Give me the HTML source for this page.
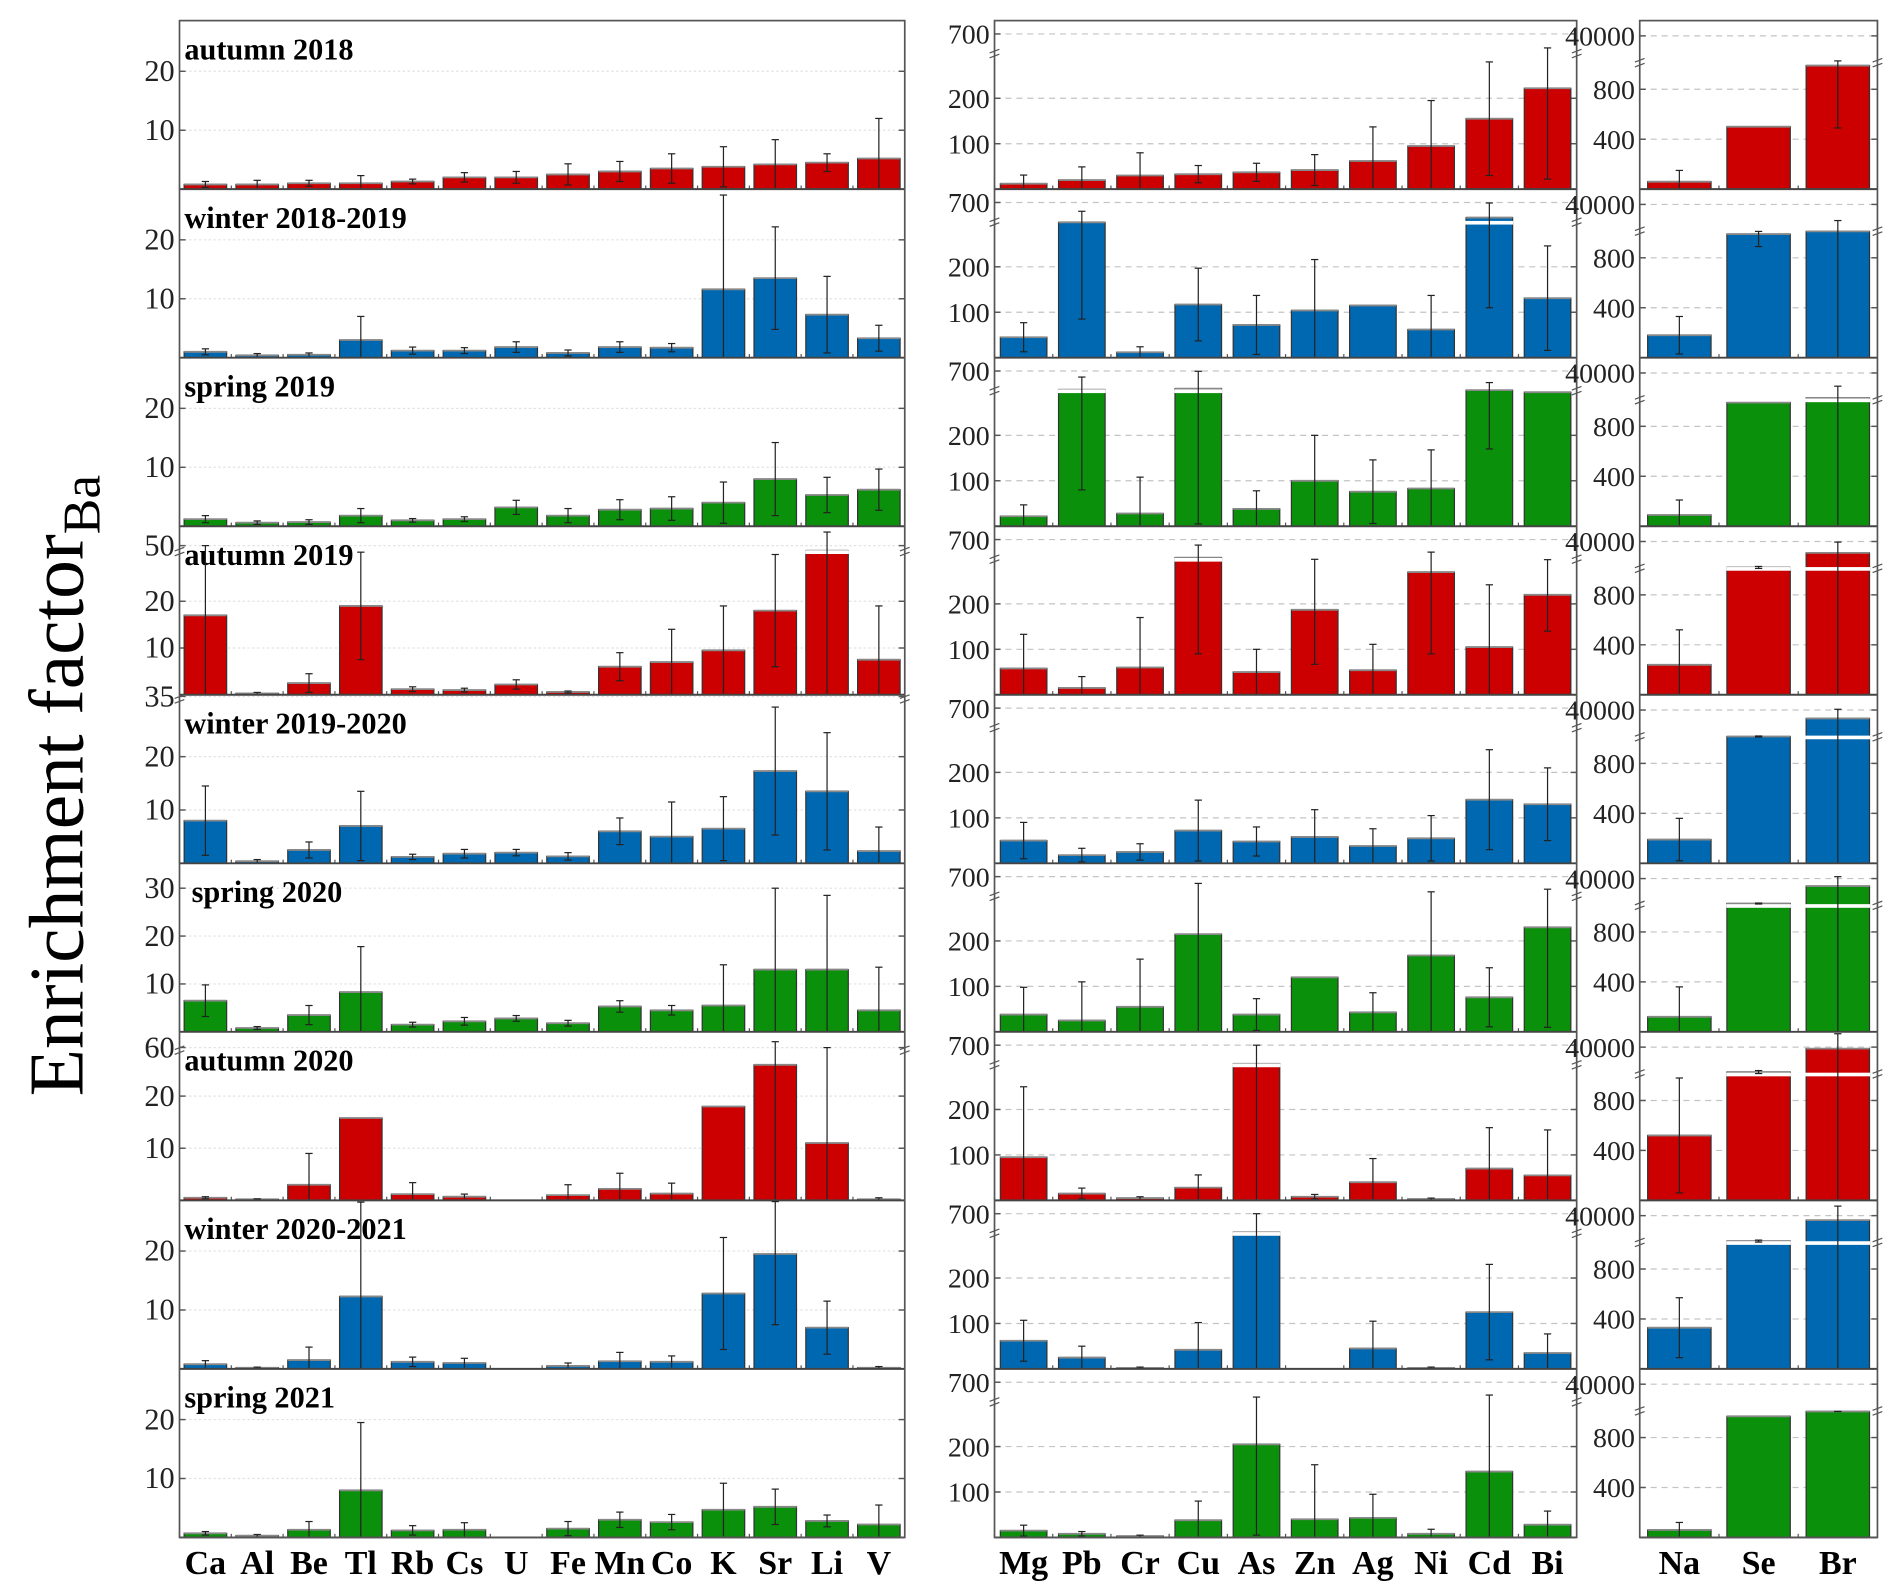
<!DOCTYPE html>
<html><head><meta charset="utf-8">
<style>
html,body{margin:0;padding:0;background:#fff;}
svg{display:block;}
text{font-family:"Liberation Serif","DejaVu Serif",serif;}
</style></head>
<body>
<svg id="chart" width="1892" height="1592" viewBox="0 0 1560 1313" preserveAspectRatio="none" xmlns="http://www.w3.org/2000/svg">
<text transform="translate(68,648) rotate(-90)" text-anchor="middle" font-size="64" fill="#000">Enrichment factor<tspan font-size="44" dy="14">Ba</tspan></text>
</svg>
<script>
const leftCats=["Ca","Al","Be","Tl","Rb","Cs","U","Fe","Mn","Co","K","Sr","Li","V"];
const midCats=["Mg","Pb","Cr","Cu","As","Zn","Ag","Ni","Cd","Bi"];
const rightCats=["Na","Se","Br"];
const seasons=["autumn 2018","winter 2018-2019","spring 2019","autumn 2019","winter 2019-2020","spring 2020","autumn 2020","winter 2020-2021","spring 2021"];
const leftVals=[
[0.8,0.8,1,1,1.3,2,2,2.5,3,3.5,3.8,4.2,4.5,5.2],
[1,0.4,0.5,3,1.2,1.2,1.8,0.8,1.8,1.7,11.6,13.5,7.3,3.3],
[1.2,0.6,0.7,1.8,1,1.2,3.2,1.8,2.8,3,4,8,5.3,6.2],
[17,0.3,2.5,19,1.2,1,2.2,0.6,6,7,9.5,18,35,7.5],
[8,0.4,2.5,7,1.2,1.8,2,1.3,6,5,6.5,17.3,13.5,2.3],
[6.5,0.8,3.5,8.3,1.5,2.2,2.8,1.8,5.3,4.5,5.5,13,13,4.5],
[0.5,0.2,3,15.8,1.2,0.7,0,1,2.2,1.3,18,26,11,0.2],
[0.8,0.2,1.5,12.3,1.2,1,0,0.5,1.3,1.2,12.8,19.5,7,0.2],
[0.7,0.3,1.3,8,1.2,1.3,0,1.5,3,2.6,4.7,5.2,2.8,2.2]];
const leftErr=[
[0.5,0.7,0.5,1.3,0.4,0.8,1,1.8,1.7,2.5,3.4,4.2,1.5,6.8],
[0.5,0.3,0.3,4,0.6,0.5,0.9,0.5,0.9,0.7,16,8.7,6.5,2.2],
[0.6,0.3,0.4,1.2,0.3,0.4,1.2,1.2,1.7,2,3.5,6.2,3,3.5],
[33,0.2,2,11.5,0.5,0.4,1,0.2,3,7,9.5,12,50,11.5],
[6.5,0.3,1.5,6.5,0.5,0.8,0.6,0.7,2.5,6.5,6,12,11,4.5],
[3.3,0.3,2,9.5,0.5,0.8,0.6,0.6,1.2,1,8.5,17,15.5,9],
[0.2,0.1,6,0,2.2,0.5,0,2,3,2,0,49,49,0.3],
[0.6,0.1,2.2,16,0.8,0.8,0,0.5,1.5,1,9.5,12,4.5,0.2],
[0.3,0.2,1.4,11.5,0.8,1.2,0,1.2,1.3,1.3,4.5,3,1,3.3]];
const midVals=[
[12,20,30,33,37,42,62,95,155,222],
[45,305,12,117,72,104,115,62,400,131],
[22,330,28,350,38,100,76,83,320,295],
[58,15,60,340,50,187,54,270,105,220],
[50,18,25,72,48,58,38,55,140,130],
[38,25,55,215,38,120,43,168,76,230],
[95,15,5,28,330,8,40,3,70,55],
[62,25,2,42,330,0,45,2,125,35],
[15,8,3,38,205,40,43,8,145,28]];
const midErr=[
[19,29,50,19,20,34,75,100,125,200],
[32,220,12,80,65,112,0,75,290,115],
[25,250,80,345,40,100,70,85,150,0],
[75,25,110,250,50,120,57,180,137,80],
[40,15,18,67,32,60,38,50,110,80],
[60,85,105,350,35,0,43,230,65,220],
[155,12,3,28,370,5,52,2,90,100],
[45,25,2,60,370,0,60,2,105,42],
[12,5,2,42,200,120,52,10,300,30]];
const rightVals=[[60,500,990],[180,990,1100],[90,990,1500],[240,1300,8000],[190,1200,12000],[120,1500,15000],[520,1500,35000],[330,1400,25000],[60,970,1030]];
const rightErr=[[90,0,500],[150,100,3000],[120,0,5000],[280,200,30000],[170,100,30000],[240,100,30000],[460,300,40000],[240,200,40000],[60,0,20]];
const leftTicks=[[10,20],[10,20],[10,20],[10,20,50],[10,20,35],[10,20,30],[10,20,60],[10,20],[10,20]];
const midTicks=[100,200,700];
const rightTicks=[400,800,40000];

const svg=document.getElementById('chart');
const NS='http://www.w3.org/2000/svg';
const COLORS=['#cc0000','#0068b0','#0a900a'];
const ROWH=139, TOP=17;
// scale segment definitions (value -> px above baseline), per row for left
const STD=[[0,0],[28.6,139]];
const leftSegs=[STD,STD,STD,
 [[0,0],[30.5,117.6],[50,123],[100,139]],
 [[0,0],[30.7,135],[35,137.5],[45,139]],
 [[0,0],[35.2,139]],
 [[0,0],[28.7,123.4],[60,126],[100,139]],
 STD,STD];
const leftBreak=[null,null,null,117.6,135,null,123.4,null,null];
const midSegs=[[0,0],[297,111.3],[700,128],[1000,139]];
const rightSegs=[[0,0],[1008,103.8],[3000,112],[10000,119],[40000,126.4],[80000,139]];
function sc(segs,v){
  if(v<=segs[0][0])return 0;
  for(let i=1;i<segs.length;i++){
    if(v<=segs[i][0]){const a=segs[i-1],b=segs[i];return a[1]+(v-a[0])/(b[0]-a[0])*(b[1]-a[1]);}
  }
  return segs[segs.length-1][1];
}
function mk(tag,attrs,parent){const e=document.createElementNS(NS,tag);for(const k in attrs)e.setAttribute(k,attrs[k]);(parent||svg).appendChild(e);return e;}

const panels=[
 {x0:148,x1:746,cats:leftCats,vals:leftVals,err:leftErr,bw:0.82,name:'left'},
 {x0:820,x1:1300,cats:midCats,vals:midVals,err:midErr,bw:0.8,name:'middle'},
 {x0:1352,x1:1548,cats:rightCats,vals:rightVals,err:rightErr,bw:0.8,name:'right'}];

panels.forEach((p,pi)=>{
  const g=mk('g',{});
  
  
  const n=p.cats.length, step=(p.x1-p.x0)/n;
  for(let r=0;r<9;r++){
    const base=TOP+ROWH*(r+1), top=TOP+ROWH*r;
    const segs=pi==0?leftSegs[r]:(pi==1?midSegs:rightSegs);
    const brk=pi==0?leftBreak[r]:(pi==1?111.3:103.8);
    const ticks=pi==0?leftTicks[r]:(pi==1?midTicks:rightTicks);
    const y=v=>base-sc(segs,v);
    // grid + tick labels
    ticks.forEach(t=>{
      const ty=y(t);
      const gl=mk('line',{x1:p.x0,x2:p.x1,y1:ty,y2:ty,stroke:pi==0?'#e2e2e2':'#c4c4c4','stroke-width':1,'stroke-dasharray':pi==0?'2,2':'5,4'},g);
      
      
      mk('line',{x1:p.x0,x2:p.x0+5,y1:ty,y2:ty,stroke:'#555','stroke-width':1.2},g);
      mk('line',{x1:p.x1-5,x2:p.x1,y1:ty,y2:ty,stroke:'#555','stroke-width':1.2},g);
      const tl=mk('text',{x:p.x0-4,y:ty+8,'text-anchor':'end','font-size':pi==0?25:23,fill:'#222'},g);
      
      
      tl.textContent=String(t);
    });
    // season title
    if(pi==0){
      const st=mk('text',{x:r==5?158:152,y:top+32,'font-size':25,'font-weight':'bold',fill:'#000'},g);
      
      
      st.textContent=seasons[r];
    }
    // bars
    p.cats.forEach((c,i)=>{
      const v=p.vals[r][i], e=p.err[r][i];
      const cx=p.x0+step*(i+0.5), w=step*p.bw;
      const yt=Math.max(top+1,y(v));
      if(v>0){
        const b=mk('rect',{x:cx-w/2,y:yt,width:w,height:base-yt,fill:COLORS[r%3],stroke:'#333','stroke-width':1},g);
        
        
        mk('line',{x1:cx-w/2,x2:cx+w/2,y1:yt,y2:yt,stroke:'#888','stroke-width':1.5},g);
        if(brk!==null && sc(segs,v)>brk+1){
          const by=base-brk;
          mk('rect',{x:cx-w/2-0.5,y:by-1.5,width:w+1,height:3,fill:'#fff'},g);
        }
      }
      if(e>0){
        const ya=Math.max(top+1,y(v+e)), yb=Math.min(base,y(Math.max(0,v-e)));
        const eb=mk('line',{x1:cx,x2:cx,y1:ya,y2:yb,stroke:'#222','stroke-width':1},g);
        
        
        mk('line',{x1:cx-3,x2:cx+3,y1:ya,y2:ya,stroke:'#222','stroke-width':1},g);
        if(yb<base-1)mk('line',{x1:cx-3,x2:cx+3,y1:yb,y2:yb,stroke:'#222','stroke-width':1},g);
      }
      // category tick at bottom
      mk('line',{x1:p.x0+step*i,x2:p.x0+step*i,y1:base,y2:base-3,stroke:'#555','stroke-width':1},g);
    });
    // baseline row separator
    mk('line',{x1:p.x0,x2:p.x1,y1:base,y2:base,stroke:'#444','stroke-width':1.6},g);
    // break marks
    if(brk!==null){
      const by=base-brk;
      [p.x0,p.x1].forEach(xx=>{
        mk('rect',{x:xx-4,y:by-2,width:8,height:4,fill:'#fff'},g);
        mk('line',{x1:xx-4,x2:xx+4,y1:by-1,y2:by-4,stroke:'#555','stroke-width':1},g);
        mk('line',{x1:xx-4,x2:xx+4,y1:by+3,y2:by,stroke:'#555','stroke-width':1},g);
      });
    }
  }
  // frame
  const fr=mk('rect',{x:p.x0,y:TOP,width:p.x1-p.x0,height:ROWH*9,fill:'none',stroke:'#555','stroke-width':1.4},g);
  
  
  // category labels
  p.cats.forEach((c,i)=>{
    const cl=mk('text',{x:p.x0+step*(i+0.5),y:1298,'text-anchor':'middle','font-size':28,'font-weight':'bold',fill:'#000'},g);
    
    
    cl.textContent=c;
  });
});
</script>
</body></html>
